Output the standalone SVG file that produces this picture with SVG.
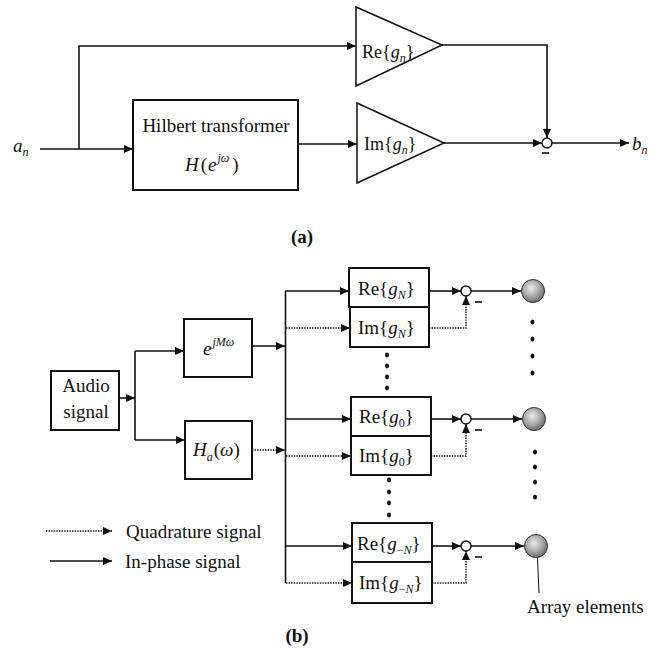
<svg xmlns="http://www.w3.org/2000/svg" width="667" height="651" viewBox="0 0 667 651">
  <defs>
    <marker id="arr" viewBox="0 0 9 8" refX="9" refY="4" markerWidth="9" markerHeight="8" markerUnits="userSpaceOnUse" orient="auto">
      <path d="M0,0 L9,4 L0,8 z" fill="#111"/>
    </marker>
    <radialGradient id="ball" cx="0.42" cy="0.38" r="0.65">
      <stop offset="0" stop-color="#ececec"/>
      <stop offset="0.55" stop-color="#a8a8a8"/>
      <stop offset="1" stop-color="#666"/>
    </radialGradient>
  </defs>
  <style>
    .ln{fill:none;stroke:#111;stroke-width:1.6}
    .dt{fill:none;stroke:#111;stroke-width:1.5;stroke-dasharray:1.4 1.2}
    .bx{fill:#fff;stroke:#111;stroke-width:2}
    .tri{fill:#fff;stroke:#111;stroke-width:1.5}
    .sum{fill:#fff;stroke:#111;stroke-width:1.5}
    .ball{fill:url(#ball);stroke:#333;stroke-width:1}
    .dot{fill:#111}
    text{font-family:"Liberation Serif","Times New Roman",serif;fill:#111;font-size:19px}
    .g18{font-size:18px}
    .it{font-style:italic}
    .sb{font-size:12px;font-style:italic}
    .sn{font-size:12px;font-style:normal}
    .cap{font-weight:bold}
  </style>
  <rect width="667" height="651" fill="#fff"/>

  <!-- (a) Hilbert-transformer filter -->
  <g id="a-connectors">
    <path class="ln" d="M40,149 H133" marker-end="url(#arr)"/>
    <path class="ln" d="M79,149 V46 H356" marker-end="url(#arr)"/>
    <path class="ln" d="M298,144 H357" marker-end="url(#arr)"/>
    <path class="ln" d="M442,45 H547 V138" marker-end="url(#arr)"/>
    <path class="ln" d="M444,143 H542" marker-end="url(#arr)"/>
    <path class="ln" d="M552,143 H629" marker-end="url(#arr)"/>
    <path class="ln" d="M542,153 H549"/>
  </g>
  <g id="a-input">
    <text x="13" y="152"><tspan class="it">a</tspan><tspan class="sb" dy="4">n</tspan></text>
  </g>
  <g id="a-hilbert">
    <rect class="bx" x="133" y="100" width="165" height="90"/>
    <text x="216" y="132" text-anchor="middle">Hilbert transformer</text>
    <text x="185" y="171"><tspan class="it">H</tspan><tspan dx="2">(</tspan><tspan class="it" dx="1">e</tspan><tspan class="sb" dx="1" dy="-9">jω</tspan><tspan dx="3" dy="9">)</tspan></text>
  </g>
  <g id="a-re">
    <polygon class="tri" points="356,7 356,86 442,45"/>
    <text class="g18" x="362" y="58">Re{<tspan class="it">g</tspan><tspan class="sb" dy="4">n</tspan><tspan dy="-4">}</tspan></text>
  </g>
  <g id="a-im">
    <polygon class="tri" points="357,103 357,183 444,143"/>
    <text class="g18" x="364" y="150">Im{<tspan class="it">g</tspan><tspan class="sb" dy="4">n</tspan><tspan dy="-4">}</tspan></text>
  </g>
  <g id="a-sum">
    <circle class="sum" cx="547" cy="143" r="5"/>
  </g>
  <g id="a-output">
    <text x="632" y="150"><tspan class="it">b</tspan><tspan class="sb" dy="4">n</tspan></text>
  </g>
  <text class="cap" x="302" y="243" text-anchor="middle">(a)</text>

  <!-- (b) Array beamformer -->
  <g id="b-connectors">
    <path class="ln" d="M119,398 H135" marker-end="url(#arr)"/>
    <path class="ln" d="M135,351 V440"/>
    <path class="ln" d="M135,351 H184" marker-end="url(#arr)"/>
    <path class="ln" d="M135,440 H185" marker-end="url(#arr)"/>
    <path class="ln" d="M252,346 H285" marker-end="url(#arr)"/>
    <path class="dt" d="M252,450 H285" marker-end="url(#arr)"/>
    <path class="ln" d="M285.5,291 V583"/>
    <!-- feeds into the gain blocks -->
    <path class="ln" d="M285,291 H349" marker-end="url(#arr)"/>
    <path class="dt" d="M286,328 H350" marker-end="url(#arr)"/>
    <path class="ln" d="M285,419 H351" marker-end="url(#arr)"/>
    <path class="dt" d="M286,456 H351" marker-end="url(#arr)"/>
    <path class="ln" d="M285,546 H352" marker-end="url(#arr)"/>
    <path class="dt" d="M286,583 H352" marker-end="url(#arr)"/>
    <!-- gains to summing junctions -->
    <path class="ln" d="M429,291 H461" marker-end="url(#arr)"/>
    <path class="dt" d="M429,328 H466 V296" marker-end="url(#arr)"/>
    <path class="ln" d="M431,419 H461" marker-end="url(#arr)"/>
    <path class="dt" d="M431,456 H466 V424" marker-end="url(#arr)"/>
    <path class="ln" d="M432,546 H461" marker-end="url(#arr)"/>
    <path class="dt" d="M432,583 H466 V551" marker-end="url(#arr)"/>
    <!-- summing junctions to array elements -->
    <path class="ln" d="M471,291 H521" marker-end="url(#arr)"/>
    <path class="ln" d="M471,419 H522" marker-end="url(#arr)"/>
    <path class="ln" d="M471,546 H524" marker-end="url(#arr)"/>
    <!-- minus signs -->
    <path class="ln" d="M475,302 H482"/>
    <path class="ln" d="M475,430 H482"/>
    <path class="ln" d="M475,557 H482"/>
    <!-- label leader -->
    <path fill="none" stroke="#111" stroke-width="1" d="M537.5,557.5 L539,593"/>
  </g>

  <g id="b-audio">
    <rect class="bx" x="51" y="371" width="68" height="59"/>
    <text x="86" y="392" text-anchor="middle">Audio</text>
    <text x="86" y="418" text-anchor="middle">signal</text>
  </g>
  <g id="b-delay">
    <rect class="bx" x="184" y="319" width="68" height="58"/>
    <text x="203" y="355"><tspan class="it">e</tspan><tspan class="sb" dx="1" dy="-9">jMω</tspan></text>
  </g>
  <g id="b-hilbert">
    <rect class="bx" x="185" y="421" width="67" height="58"/>
    <text x="193" y="456"><tspan class="it">H</tspan><tspan class="sb" dy="5">a</tspan><tspan dy="-5" dx="1">(</tspan><tspan class="it">ω</tspan>)</text>
  </g>

  <g id="b-gain-N">
    <rect class="bx" x="349" y="268" width="80" height="39"/>
    <rect class="bx" x="350" y="307" width="79" height="40"/>
    <text x="358" y="295">Re{<tspan class="it">g</tspan><tspan class="sb" dy="4">N</tspan><tspan dy="-4">}</tspan></text>
    <text x="358" y="334">Im{<tspan class="it">g</tspan><tspan class="sb" dy="4">N</tspan><tspan dy="-4">}</tspan></text>
  </g>
  <g id="b-gain-0">
    <rect class="bx" x="351" y="397" width="80" height="39"/>
    <rect class="bx" x="351" y="436" width="80" height="39"/>
    <text x="359" y="423">Re{<tspan class="it">g</tspan><tspan class="sn" dy="4">0</tspan><tspan dy="-4">}</tspan></text>
    <text x="359" y="462">Im{<tspan class="it">g</tspan><tspan class="sn" dy="4">0</tspan><tspan dy="-4">}</tspan></text>
  </g>
  <g id="b-gain-minusN">
    <rect class="bx" x="352" y="523" width="80" height="39"/>
    <rect class="bx" x="352" y="562" width="80" height="41"/>
    <text x="357" y="550">Re{<tspan class="it">g</tspan><tspan class="sn" dy="4">−</tspan><tspan class="sb">N</tspan><tspan dy="-4">}</tspan></text>
    <text x="359" y="589">Im{<tspan class="it">g</tspan><tspan class="sn" dy="4">−</tspan><tspan class="sb">N</tspan><tspan dy="-4">}</tspan></text>
  </g>

  <g id="b-sums">
    <circle class="sum" cx="466" cy="291" r="5"/>
    <circle class="sum" cx="466" cy="419" r="5"/>
    <circle class="sum" cx="466" cy="546" r="5"/>
  </g>
  <g id="b-elements">
    <circle class="ball" cx="533" cy="291" r="11.5"/>
    <circle class="ball" cx="534" cy="419" r="11.5"/>
    <circle class="ball" cx="536" cy="546" r="11.5"/>
    <text x="527" y="613">Array elements</text>
  </g>
  <g id="b-ellipsis">
    <ellipse class="dot" cx="387" cy="355" rx="2" ry="2.4"/>
    <ellipse class="dot" cx="387" cy="366" rx="2" ry="2.4"/>
    <ellipse class="dot" cx="387" cy="377" rx="2" ry="2.4"/>
    <ellipse class="dot" cx="387" cy="388" rx="2" ry="2.4"/>
    <ellipse class="dot" cx="389" cy="480" rx="2" ry="2.4"/>
    <ellipse class="dot" cx="389" cy="492" rx="2" ry="2.4"/>
    <ellipse class="dot" cx="389" cy="503" rx="2" ry="2.4"/>
    <ellipse class="dot" cx="389" cy="515" rx="2" ry="2.4"/>
    <ellipse class="dot" cx="532.5" cy="322" rx="2" ry="2.6"/>
    <ellipse class="dot" cx="532.5" cy="339" rx="2" ry="2.6"/>
    <ellipse class="dot" cx="532.5" cy="356" rx="2" ry="2.6"/>
    <ellipse class="dot" cx="532.5" cy="373" rx="2" ry="2.6"/>
    <ellipse class="dot" cx="535" cy="452" rx="2" ry="2.6"/>
    <ellipse class="dot" cx="535" cy="467" rx="2" ry="2.6"/>
    <ellipse class="dot" cx="535" cy="482" rx="2" ry="2.6"/>
    <ellipse class="dot" cx="535" cy="497" rx="2" ry="2.6"/>
  </g>

  <g id="b-legend">
    <path class="dt" d="M46,531 H112" marker-end="url(#arr)"/>
    <text x="126" y="538">Quadrature signal</text>
    <path class="ln" d="M50,561 H112" marker-end="url(#arr)"/>
    <text x="125" y="568">In-phase signal</text>
  </g>
  <text class="cap" x="297" y="642" text-anchor="middle">(b)</text>
</svg>
